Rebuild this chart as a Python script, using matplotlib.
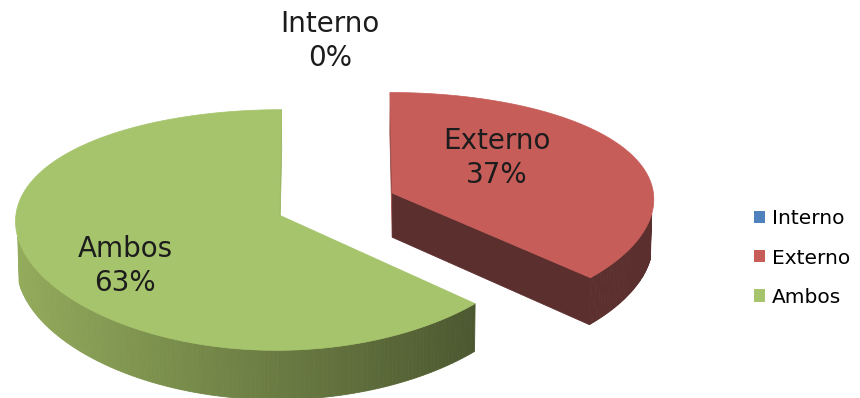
import numpy as np
import matplotlib.pyplot as plt
from matplotlib.colors import to_rgb
from matplotlib.patches import Polygon, Patch

# slice data
labels = ['Interno', 'Externo', 'Ambos']
values = [0, 37, 63]
top_colors = ['#4F81BD', '#C75D59', '#A6C46B']
wall_light = ['#5A7FAE', '#7A3C3A', '#94AC5C']
wall_dark = ['#2E4560', '#5B2F2E', '#4C5830']
label_xy = [(330, 41), (497, 158), (125, 266)]

# 3d view settings (screen pixels)
sin_a = 0.44
cos_a = np.sqrt(1 - sin_a ** 2)
dist = 7.27
focal = 1912.0
dist_x = 20.0
focal_x = 5240.0
cx0, cy0 = 336.0, 204.0
depth = 0.19
explode = 0.236
cam = np.array([0.0, -dist * cos_a, dist * sin_a])


def project(x, y, z):
    v = y * sin_a + z * cos_a
    w = y * cos_a - z * sin_a
    return cx0 + x * focal_x / (dist_x + w), cy0 - v * focal / (dist + w)


def facing(normal, point):
    return np.dot(normal, cam - np.asarray(point)) > 0


def mix(c1, c2, t):
    a = np.array(to_rgb(c1))
    b = np.array(to_rgb(c2))
    return tuple(a * (1 - t) + b * t)


fig = plt.figure(figsize=(8.6, 3.98), dpi=100)
ax = fig.add_axes([0, 0, 1, 1])
ax.set_xlim(0, 860)
ax.set_ylim(398, 0)
ax.axis('off')

# build slices, start at 12 o'clock and go clockwise
slices = []
start = 90.0
for i, val in enumerate(values):
    span = 360.0 * val / 100
    a0, a1 = start, start - span
    start = a1
    if span == 0:
        continue
    mid = np.radians((a0 + a1) / 2)
    ox, oy = explode * np.cos(mid), explode * np.sin(mid)
    slices.append((oy, i, a0, a1, ox))

# back slices first
slices.sort(key=lambda s: -s[0])

for oy, i, a0, a1, ox in slices:
    th = np.radians(np.linspace(a0, a1, 240))
    xs = ox + np.cos(th)
    ys = oy + np.sin(th)

    # radial cut faces
    for ang, sign in ((a0, 1), (a1, -1)):
        r = np.radians(ang)
        n = np.array([np.cos(r + sign * np.pi / 2), np.sin(r + sign * np.pi / 2), 0])
        ex, ey = ox + np.cos(r), oy + np.sin(r)
        if facing(n, ((ox + ex) / 2, (oy + ey) / 2, -depth / 2)):
            pts = [project(ox, oy, 0), project(ex, ey, 0),
                   project(ex, ey, -depth), project(ox, oy, -depth)]
            if n[1] < -0.1:
                col = wall_dark[i]
            else:
                col = mix(wall_light[i], top_colors[i], 0.45)
            ax.add_patch(Polygon(pts, closed=True, facecolor=col, edgecolor=col, lw=0.6))

    # outer wall, shaded from left to right
    for k in range(len(th) - 1):
        tm = (th[k] + th[k + 1]) / 2
        n = np.array([np.cos(tm), np.sin(tm), 0])
        if not facing(n, (ox + np.cos(tm), oy + np.sin(tm), -depth / 2)):
            continue
        t = np.clip((np.cos(tm) + 1) / 1.73, 0, 1)
        col = mix(wall_light[i], wall_dark[i], t)
        pts = [project(xs[k], ys[k], 0), project(xs[k + 1], ys[k + 1], 0),
               project(xs[k + 1], ys[k + 1], -depth), project(xs[k], ys[k], -depth)]
        ax.add_patch(Polygon(pts, closed=True, facecolor=col, edgecolor=col, lw=0.6))

    # top face
    top = [project(ox, oy, 0)] + [project(x, y, 0) for x, y in zip(xs, ys)]
    ax.add_patch(Polygon(top, closed=True, facecolor=top_colors[i],
                         edgecolor=top_colors[i], lw=0.5))

# data labels
for (lx, ly), lab, val in zip(label_xy, labels, values):
    ax.text(lx, ly, f'{lab}\n{val}%', ha='center', va='center', fontsize=20,
            linespacing=1.25, color='#1c1c1c')

handles = [Patch(facecolor=c, edgecolor='none') for c in top_colors]
ax.legend(handles, labels, loc='center left', bbox_to_anchor=(754 / 860, 1 - 258 / 398),
          frameon=False, fontsize=14.5, handlelength=0.55, handleheight=0.55,
          handletextpad=0.35, labelspacing=1.0, borderpad=0, borderaxespad=0)

fig.savefig('out.png', dpi=100)
